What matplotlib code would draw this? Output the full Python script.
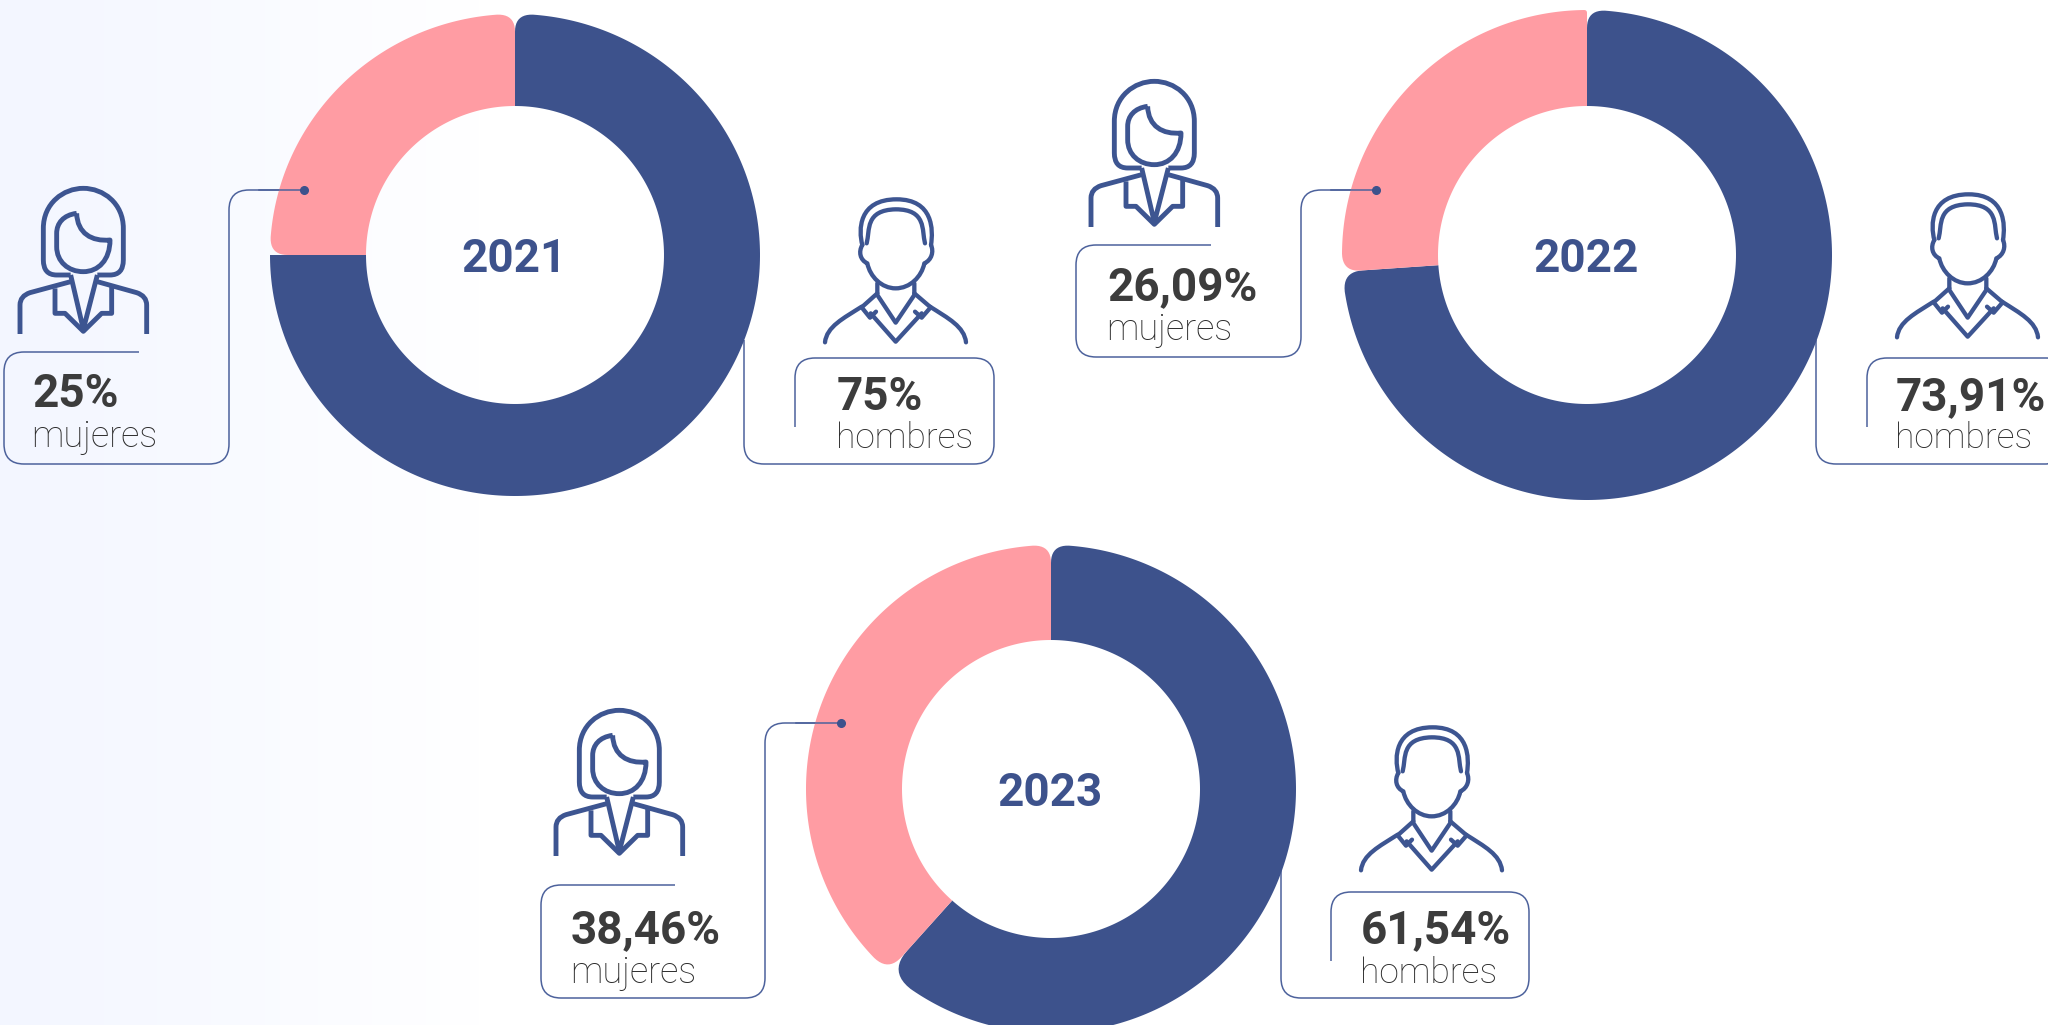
import numpy as np
import matplotlib
matplotlib.use('Agg')
import matplotlib.pyplot as plt
from matplotlib.patches import Polygon, PathPatch
from matplotlib.path import Path

# datos
years = ['2021', '2022', '2023']
mujeres = [25, 26.09, 38.46]
hombres = [75, 73.91, 61.54]
mujeres_txt = ['25%', '26,09%', '38,46%']
hombres_txt = ['75%', '73,91%', '61,54%']

AZUL = '#3d528c'
ROSA = '#ff9ca3'
LINEA = '#4d629c'
TEXTO = '#3c3c3c'
TEXTO2 = '#2c2c2c'
ICONO = '#3d5591'

R_OUT = 245
R_IN = 149

WOMAN = [
    "M 212 315 L 170 315 Q 130 315 130 270 L 130 175 C 130 100 190 55 250 55 C 310 55 370 100 370 175 L 370 270 Q 370 315 330 315 L 292 315",
    "M 230 130 C 190 135 170 160 170 190 L 170 230 C 170 275 205 305 250 305 C 295 305 330 270 330 210 C 275 215 232 190 230 130",
    "M 212 315 L 250 478 L 292 315",
    "M 60 492 L 60 405 Q 60 378 90 368 L 212 335",
    "M 440 492 L 440 405 Q 440 378 410 368 L 292 335",
    "M 165 355 L 165 430 L 195 430 L 250 484 L 305 430 L 335 430 L 335 350",
]
MAN = [
    "M 397 195 C 385 150 385 58 500 58 C 610 58 610 150 603 195",
    "M 410 190 C 420 150 405 90 497 88 C 590 88 575 150 585 190",
    "M 397 195 C 385 215 390 240 412 250 C 420 290 455 325 497 325 C 540 325 575 290 583 250 C 605 240 612 215 603 195",
    "M 442 310 L 442 345 L 497 428 L 553 345 L 553 310",
    "M 442 340 L 395 382 L 420 413 L 438 395",
    "M 553 340 L 602 382 L 575 413 L 555 395",
    "M 422 400 L 497 485 L 575 400",
    "M 285 487 C 290 440 340 415 395 380",
    "M 708 487 C 703 440 655 415 600 380",
]


def svg_path(d, ox, oy):
    # mini parser, coordenadas del recorte 3x
    tok = d.split()
    n = {'M': 1, 'L': 1, 'Q': 2, 'C': 3}
    code = {'M': Path.MOVETO, 'L': Path.LINETO, 'Q': Path.CURVE3, 'C': Path.CURVE4}
    verts, codes = [], []
    i = 0
    while i < len(tok):
        c = tok[i]
        i += 1
        for _ in range(n[c]):
            verts.append((float(tok[i]) / 3 + ox, float(tok[i + 1]) / 3 + oy))
            codes.append(code[c])
            i += 2
    return Path(verts, codes)


def draw_icon(ax, strokes, ox, oy, lw, cap='butt'):
    for d in strokes:
        ax.add_patch(PathPatch(svg_path(d, ox, oy), fill=False, ec=ICONO, lw=lw,
                               capstyle=cap, joinstyle='round', zorder=4))


def ring(cx, cy, t1, t2, rad1, rad2, ry=R_OUT):
    # angulos en grados, en sentido horario desde las 12; rad1/rad2 = radio de esquina
    a1, a2 = np.radians(t1), np.radians(t2)
    d1 = rad1 / R_OUT
    d2 = rad2 / R_OUT
    def outer(r, a):
        return np.column_stack([cx + r * np.sin(a), cy - r * ry / R_OUT * np.cos(a)])
    s = np.linspace(0, 1, 12)[:, None]
    parts = [np.column_stack([cx + R_IN * np.sin(np.linspace(a2, a1, 200)),
                              cy - R_IN * np.cos(np.linspace(a2, a1, 200))])]
    if rad1 > 0:
        p0, p1, p2 = outer(R_OUT - rad1, a1), outer(R_OUT, a1), outer(R_OUT, a1 + d1)
        parts.append((1 - s) ** 2 * p0 + 2 * s * (1 - s) * p1 + s ** 2 * p2)
    parts.append(outer(R_OUT, np.linspace(a1 + d1, a2 - d2, 300)))
    if rad2 > 0:
        p0, p1, p2 = outer(R_OUT, a2 - d2), outer(R_OUT, a2), outer(R_OUT - rad2, a2)
        parts.append((1 - s) ** 2 * p0 + 2 * s * (1 - s) * p1 + s ** 2 * p2)
    return np.vstack(parts)


def box_path(pts, r=20):
    # polilinea con esquinas redondeadas
    verts = [pts[0]]
    codes = [Path.MOVETO]
    for i in range(1, len(pts) - 1):
        p = np.array(pts[i], float)
        a = np.array(pts[i - 1], float)
        b = np.array(pts[i + 1], float)
        verts += [p + (a - p) / np.linalg.norm(a - p) * r, p, p + (b - p) / np.linalg.norm(b - p) * r]
        codes += [Path.LINETO, Path.CURVE3, Path.CURVE3]
    verts.append(pts[-1])
    codes.append(Path.LINETO)
    return Path(verts, codes)


fig = plt.figure(figsize=(20.48, 10.25), dpi=100)
ax = fig.add_axes([0, 0, 1, 1])
ax.axis('off')

# fondo degradado a la izquierda
grad = np.ones((1, 480, 3))
t = np.linspace(0, 1, 480)
grad[0, :, 0] = 0.953 + (1 - 0.953) * t
grad[0, :, 1] = 0.965 + (1 - 0.965) * t
ax.imshow(grad, extent=[0, 480, 1025, 0], aspect='auto', zorder=0)
ax.set_xlim(0, 2048)
ax.set_ylim(1025, 0)

centers = [(515, 255), (1587, 255), (1051, 789)]
radii_y = [241, 245, 244]
# radio de esquina: (azul inicio, azul fin, rosa inicio, rosa fin)
rounding = [(18, 0, 18, 18), (18, 20, 18, 3), (18, 28, 20, 18)]
woman_off = [(0, 170), (1071, 63), (536, 692)]
man_off = [(730, 180), (1802, 175), (1266, 708)]
dots = [(304, 190), (1376, 190), (841, 723)]
w_boxes = [
    [(139, 352), (4, 352), (4, 464), (229, 464), (229, 190), (304, 190)],
    [(1211, 245), (1076, 245), (1076, 357), (1301, 357), (1301, 190), (1376, 190)],
    [(675, 885), (541, 885), (541, 998), (765, 998), (765, 723), (841, 723)],
]
m_boxes = [
    [(795, 427), (795, 358), (994, 358), (994, 464), (744, 464), (744, 340)],
    [(1867, 427), (1867, 358), (2066, 358), (2066, 464), (1816, 464), (1816, 340)],
    [(1331, 961), (1331, 892), (1529, 892), (1529, 998), (1281, 998), (1281, 867)],
]
w_text = [(32, 407, 447), (1107, 300, 340), (571, 943, 983)]
m_text = [(837, 410, 448), (1896, 410, 448), (1361, 943, 983)]

for i, yr in enumerate(years):
    cx, cy = centers[i]
    h_ang = hombres[i] / 100 * 360
    rb1, rb2, rp1, rp2 = rounding[i]
    ax.add_patch(PathPatch(box_path(w_boxes[i]), fill=False, ec=LINEA, lw=1.1, zorder=1))
    ax.add_patch(PathPatch(box_path(m_boxes[i]), fill=False, ec=LINEA, lw=1.1, zorder=1))
    ax.add_patch(Polygon(ring(cx, cy, 0, h_ang, rb1, rb2, radii_y[i]), closed=True, fc=AZUL, ec='none', zorder=2))
    ax.add_patch(Polygon(ring(cx, cy, h_ang, 360, rp1, rp2, radii_y[i]), closed=True, fc=ROSA, ec='none', zorder=2))
    # la linea entra sobre el sector rosa
    x0, y0 = dots[i]
    ax.plot([x0 - 45, x0], [y0, y0], color=LINEA, lw=1.1, zorder=3)
    ax.plot([x0], [y0], 'o', color=AZUL, ms=5.5, zorder=3)
    ax.text(cx - 1, cy + 17, yr, color=AZUL, fontsize=33, fontweight='bold',
            family='Roboto', ha='center', va='baseline', zorder=5)
    draw_icon(ax, WOMAN, woman_off[i][0], woman_off[i][1], 3.5)
    draw_icon(ax, MAN, man_off[i][0], man_off[i][1], 3.1, cap='round')
    x, y1, y2 = w_text[i]
    ax.text(x, y1, mujeres_txt[i], color=TEXTO, fontsize=33, fontweight='bold', family='Roboto', va='baseline', zorder=5)
    ax.text(x - 1, y2, 'mujeres', color=TEXTO2, fontsize=26, fontweight='light', family='Roboto', va='baseline', zorder=5)
    x, y1, y2 = m_text[i]
    ax.text(x, y1, hombres_txt[i], color=TEXTO, fontsize=33, fontweight='bold', family='Roboto', va='baseline', zorder=5)
    ax.text(x - 1, y2, 'hombres', color=TEXTO2, fontsize=25.5, fontweight='light', family='Roboto', va='baseline', zorder=5)

fig.savefig('out.png', dpi=100)
